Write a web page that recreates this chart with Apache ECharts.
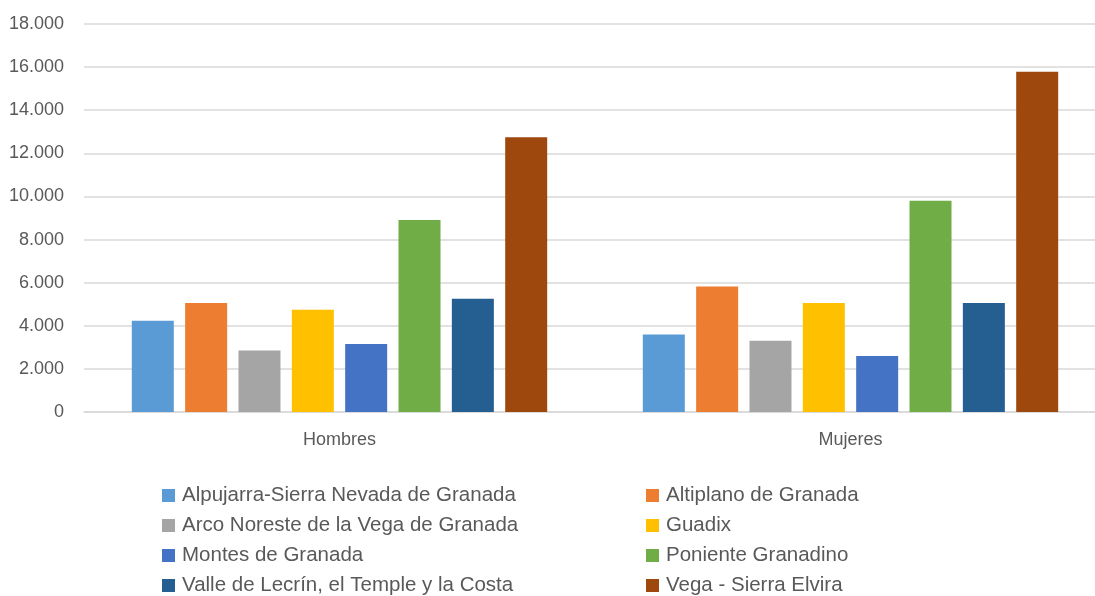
<!DOCTYPE html>
<html>
<head>
<meta charset="utf-8">
<script src="https://cdn.jsdelivr.net/npm/echarts@6/dist/echarts.min.js"></script>
<style>
    html, body { margin: 0; padding: 0; background: #fff; }
    #ChartContainer { width: 1095px; height: 596px; }
</style>
</head>
<body>
<div id="ChartContainer"></div>
<script>
// datos
var categories = ['Hombres', 'Mujeres'];
var comarcas = [
    'Alpujarra-Sierra Nevada de Granada',
    'Altiplano de Granada',
    'Arco Noreste de la Vega de Granada',
    'Guadix',
    'Montes de Granada',
    'Poniente Granadino',
    'Valle de Lecrín, el Temple y la Costa',
    'Vega - Sierra Elvira'
];
var alpujarra = [4230, 3590];
var altiplano = [5060, 5820];
var arcoNoreste = [2850, 3300];
var guadix = [4740, 5060];
var montes = [3160, 2600];
var poniente = [8910, 9800];
var valleLecrin = [5250, 5060];
var vegaElvira = [12750, 15790];
var yTicks = [0, 2000, 4000, 6000, 8000, 10000, 12000, 14000, 16000, 18000];

var seriesValues = [alpujarra, altiplano, arcoNoreste, guadix, montes, poniente, valleLecrin, vegaElvira];
var colors = ['#5B9BD5', '#ED7D31', '#A5A5A5', '#FFC000', '#4472C4', '#70AD47', '#255E91', '#9E480E'];

function SetComarcasChart() {
    var dom = document.getElementById('ChartContainer');
    var myChart = echarts.init(dom, null, {
        renderer: 'canvas',
        useDirtyRect: false
    });

    var series = [];
    for (var i = 0; i < comarcas.length; i++) {
        series.push({
            name: comarcas[i],
            type: 'bar',
            barWidth: 42,
            barGap: '27%',
            itemStyle: { color: colors[i] },
            data: seriesValues[i]
        });
    }

    var legendText = {
        fontFamily: 'Liberation Sans',
        fontSize: 20.5,
        lineHeight: 20,
        color: '#595959',
        padding: [0, 0, 0, 2]
    };

    var option = {
        animation: false,
        color: colors,
        grid: {
            left: 84,
            top: 24,
            width: 1022,
            height: 388,
            outerBoundsMode: 'none'
        },
        legend: [
            {
                orient: 'vertical',
                left: 162,
                top: 485,
                height: 140,
                padding: 0,
                itemWidth: 13,
                itemHeight: 13,
                itemGap: 9,
                icon: 'rect',
                textStyle: legendText,
                data: [comarcas[0], comarcas[2], comarcas[4], comarcas[6]]
            },
            {
                orient: 'vertical',
                left: 646,
                top: 485,
                height: 140,
                padding: 0,
                itemWidth: 13,
                itemHeight: 13,
                itemGap: 9,
                icon: 'rect',
                textStyle: legendText,
                data: [comarcas[1], comarcas[3], comarcas[5], comarcas[7]]
            }
        ],
        xAxis: {
            type: 'category',
            data: categories,
            axisLine: { lineStyle: { color: '#d9d9d9', width: 1.5 } },
            axisTick: { show: false },
            axisLabel: {
                margin: 19,
                fontFamily: 'Liberation Sans',
                fontSize: 18,
                color: '#595959'
            }
        },
        yAxis: {
            type: 'value',
            min: yTicks[0],
            max: yTicks[yTicks.length - 1],
            interval: 2000,
            axisLine: { show: false },
            axisTick: { show: false },
            splitLine: { lineStyle: { color: '#d9d9d9', width: 1.5 } },
            axisLabel: {
                margin: 20,
                fontFamily: 'Liberation Sans',
                fontSize: 18,
                color: '#595959',
                formatter: function (value) {
                    return String(value).replace(/\B(?=(\d{3})+(?!\d))/g, '.');
                }
            }
        },
        series: series
    };

    if (option && typeof option === 'object') {
        myChart.setOption(option);
    }

    window.addEventListener('resize', myChart.resize);
}

SetComarcasChart();
</script>
</body>
</html>
